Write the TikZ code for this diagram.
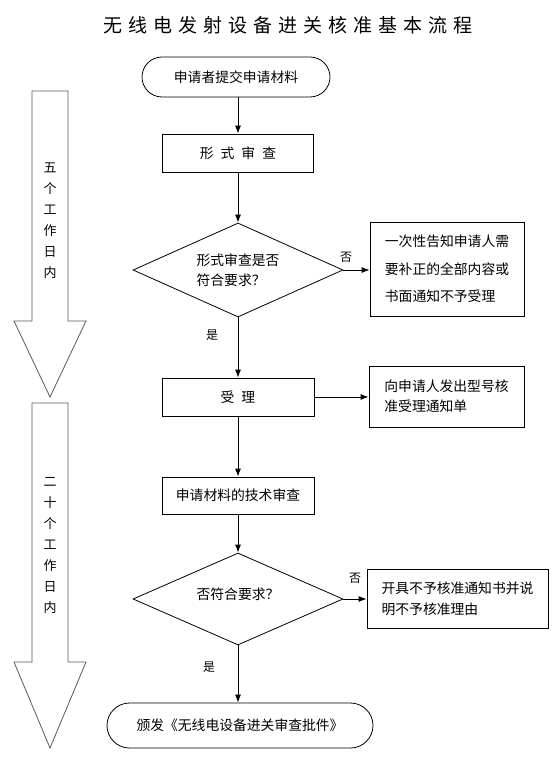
\documentclass[tikz,border=0pt]{standalone}
\usepackage{fontspec}
\setmainfont{Noto Sans CJK SC}
\usetikzlibrary{shapes.geometric,shapes.misc,arrows.meta}
\newcommand\titlegap{\hspace{6pt}}
\newcommand\boxgap{\hspace{7pt}}
\tikzset{
  startstop/.style={rounded rectangle, draw, line width=0.8pt, inner sep=0pt, font=\fontsize{13.8}{20}\selectfont},
  procbox/.style={rectangle, draw, line width=0.8pt, inner sep=0pt, align=left, font=\fontsize{13.8}{20}\selectfont},
  decision/.style={diamond, draw, line width=0.8pt, aspect=2.2, inner sep=0pt, minimum width=210pt, align=left, font=\fontsize{13.8}{19.5}\selectfont},
  branch/.style={inner sep=0pt, font=\fontsize{12}{14}\selectfont},
  daysarrow/.style={draw=black!65, line width=0.8pt},
  daystext/.style={align=center, inner sep=0pt, font=\fontsize{13}{21}\selectfont},
}
\begin{document}
\begin{tikzpicture}[x=1pt, y=-1pt, >={Latex[length=8pt, width=6pt]}]
\useasboundingbox (0,0) rectangle (559,760);
\node[font=\fontsize{19}{19}\selectfont] (T) at (288,25) {无\titlegap 线\titlegap 电\titlegap 发\titlegap 射\titlegap 设\titlegap 备\titlegap 进\titlegap 关\titlegap 核\titlegap 准\titlegap 基\titlegap 本\titlegap 流\titlegap 程};
% time arrows on the left
\draw[daysarrow] (32,91) -- (68,91) -- (68,321) -- (86,321) -- (50,397) -- (14,321) -- (32,321) -- cycle;
\node[daystext] (L1) at (50,221) {五\\个\\工\\作\\日\\内};
\draw[daysarrow] (32,403) -- (68,403) -- (68,662) -- (86,662) -- (50,748) -- (14,662) -- (32,662) -- cycle;
\node[daystext] (L2) at (50,545) {二\\十\\个\\工\\作\\日\\内};
% main flow
\node[startstop, minimum width=188pt, minimum height=40pt] (N1) at (236,77) {申请者提交申请材料};
\node[procbox, minimum width=151pt, minimum height=38pt] (N2) at (238,153) {形\boxgap 式\boxgap 审\boxgap 查};
\node[decision, minimum height=94pt] (N3) at (238,270) {形式审查是否\\符合要求？};
\node[procbox, minimum width=154pt, minimum height=94pt, font=\fontsize{13.8}{27.5}\selectfont] (N4) at (447,269) {一次性告知申请人需\\要补正的全部内容或\\书面通知不予受理};
\node[procbox, minimum width=152pt, minimum height=38pt] (N5) at (238,397) {受\boxgap 理};
\node[procbox, minimum width=155pt, minimum height=61pt] (N6) at (446.5,396.5) {向申请人发出型号核\\准受理通知单};
\node[procbox, minimum width=152pt, minimum height=37pt] (N7) at (238,495.5) {申请材料的技术审查};
\node[decision, minimum height=92pt] (N8) at (238,599) {\raisebox{11pt}{否符合要求？}};
\node[procbox, minimum width=181pt, minimum height=59pt, font=\fontsize{13.8}{21}\selectfont] (N9) at (457.5,598.5) {开具不予核准通知书并说\\明不予核准理由};
\node[startstop, minimum width=266pt, minimum height=45pt] (N10) at (240,725.5) {颁发《无线电设备进关审查批件》};
% branch labels
\node[branch] (No1) at (346,257) {否};
\node[branch] (Yes1) at (212,335) {是};
\node[branch] (No2) at (355,578) {否};
\node[branch] (Yes2) at (209,667) {是};
% connectors
\draw[->, line width=0.8pt] (N2.north |- N1.south) -- (N2.north);
\draw[->, line width=0.8pt] (N2) -- (N3);
\draw[->, line width=0.8pt] (N3.east) -- (N4.west |- N3.east);
\draw[->, line width=0.8pt] (N3.south) -- (N5.north);
\draw[->, line width=0.8pt] (N5.east) -- (N6.west |- N5.east);
\draw[->, line width=0.8pt] (N5) -- (N7);
\draw[->, line width=0.8pt] (N7) -- (N8);
\draw[->, line width=0.8pt] (N8.east) -- (N9.west |- N8.east);
\draw[->, line width=0.8pt] (N8.south) -- (N8.south |- N10.north);
\end{tikzpicture}
\end{document}
